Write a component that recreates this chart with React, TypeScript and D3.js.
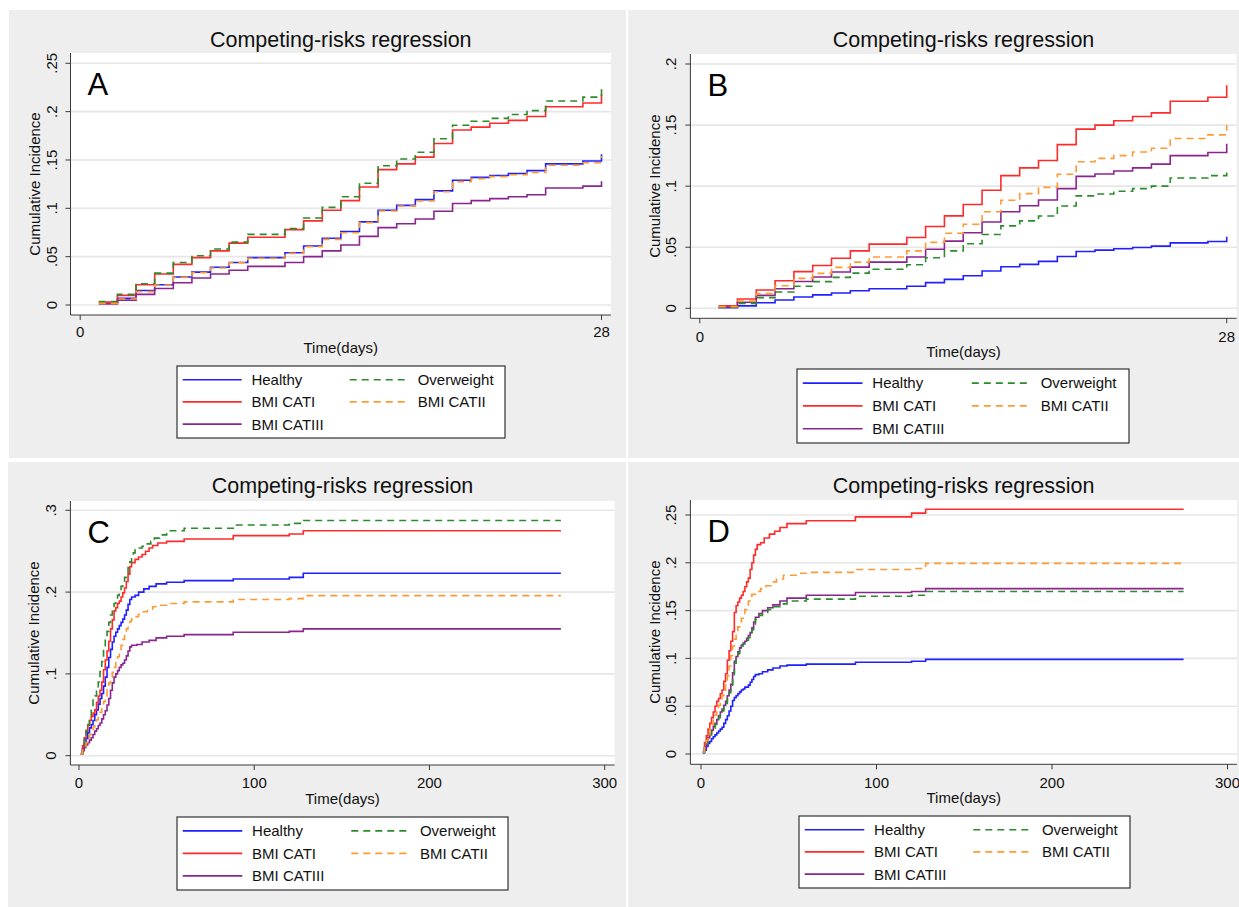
import React from "react";
import * as d3 from "d3";

// Legend / series order as in the Stata figure
const seriesNames = ["Healthy", "Overweight", "BMI CATI", "BMI CATII", "BMI CATIII"];
const seriesColors = ["#2020ff", "#2a8c2a", "#ff2a2a", "#ff9a33", "#8a2590"];
const seriesDashed = [false, true, false, true, false];
const drawOrder = [0, 2, 4, 1, 3];

// Panels A and B: daily steps over 28 days
const daysAB = [1, 2, 3, 4, 5, 6, 7, 8, 9, 10, 11, 12, 13, 14, 15, 16, 17, 18, 19, 20, 21, 22, 23, 24, 25, 26, 27, 28];

const aHealthy = [0.002, 0.007, 0.015, 0.021, 0.029, 0.034, 0.039, 0.044, 0.049, 0.049, 0.054, 0.061, 0.069, 0.076, 0.086, 0.098, 0.103, 0.109, 0.118, 0.129, 0.132, 0.134, 0.136, 0.139, 0.146, 0.146, 0.149, 0.156];
const aOverweight = [0.0035, 0.011, 0.022, 0.033, 0.044, 0.051, 0.058, 0.065, 0.073, 0.073, 0.079, 0.09, 0.101, 0.112, 0.126, 0.144, 0.151, 0.158, 0.172, 0.186, 0.19, 0.193, 0.197, 0.201, 0.211, 0.211, 0.215, 0.225];
const aCat1 = [0.003, 0.01, 0.021, 0.032, 0.042, 0.049, 0.056, 0.064, 0.07, 0.07, 0.078, 0.087, 0.098, 0.108, 0.122, 0.14, 0.146, 0.153, 0.167, 0.181, 0.184, 0.188, 0.191, 0.195, 0.205, 0.205, 0.209, 0.218];
const aCat2 = [0.0017, 0.0062, 0.0138, 0.0207, 0.0286, 0.0334, 0.0383, 0.0438, 0.0483, 0.0483, 0.0534, 0.0603, 0.0679, 0.0748, 0.0852, 0.0972, 0.1024, 0.1076, 0.1172, 0.1276, 0.1307, 0.1328, 0.1348, 0.1372, 0.1445, 0.1445, 0.1472, 0.1541];
const aCat3 = [0.001, 0.005, 0.011, 0.017, 0.023, 0.028, 0.032, 0.036, 0.04, 0.04, 0.044, 0.05, 0.056, 0.062, 0.071, 0.08, 0.084, 0.089, 0.097, 0.105, 0.108, 0.11, 0.112, 0.114, 0.121, 0.121, 0.123, 0.128];

const bHealthy = [0.0005, 0.002, 0.0046, 0.0068, 0.0093, 0.011, 0.0125, 0.0144, 0.016, 0.016, 0.018, 0.021, 0.0237, 0.0267, 0.0305, 0.034, 0.036, 0.0384, 0.0424, 0.0465, 0.0476, 0.0487, 0.0498, 0.0509, 0.0536, 0.0536, 0.0547, 0.0585];
const bOverweight = [0.0008, 0.004, 0.0087, 0.0133, 0.018, 0.0218, 0.0253, 0.0288, 0.032, 0.032, 0.0356, 0.0414, 0.047, 0.0528, 0.0604, 0.0675, 0.0716, 0.0756, 0.0838, 0.092, 0.0936, 0.0958, 0.098, 0.1, 0.1067, 0.1067, 0.1086, 0.115];
const bCat1 = [0.002, 0.0076, 0.015, 0.0226, 0.03, 0.035, 0.041, 0.047, 0.0525, 0.0525, 0.058, 0.067, 0.0757, 0.085, 0.0966, 0.1086, 0.115, 0.121, 0.134, 0.1467, 0.15, 0.1535, 0.157, 0.16, 0.1695, 0.1695, 0.1728, 0.1826];
const bCat2 = [0.0014, 0.006, 0.012, 0.0185, 0.0245, 0.0286, 0.0335, 0.0378, 0.042, 0.042, 0.047, 0.054, 0.0615, 0.0688, 0.079, 0.0884, 0.0939, 0.099, 0.1097, 0.12, 0.1227, 0.125, 0.128, 0.131, 0.139, 0.139, 0.142, 0.15];
const bCat3 = [0.001, 0.005, 0.0106, 0.016, 0.022, 0.0256, 0.0297, 0.0337, 0.0378, 0.0378, 0.042, 0.0484, 0.055, 0.0618, 0.0707, 0.079, 0.084, 0.0887, 0.098, 0.108, 0.11, 0.1124, 0.115, 0.118, 0.125, 0.125, 0.1276, 0.1347];

// Panels C and D: [day, cumulative incidence] step points up to day 275
type Pt = [number, number];

const cHealthy: Pt[] = [[1, .002], [2, .008], [3, .015], [4, .021], [5, .028], [6, .034], [7, .038], [8, .043], [9, .05], [10, .056], [11, .063], [12, .07], [13, .076], [14, .085], [15, .096], [16, .108], [17, .12], [18, .13], [19, .139], [20, .146], [21, .151], [22, .155], [23, .159], [24, .163], [25, .167], [26, .172], [27, .178], [28, .185], [29, .191], [30, .194], [32, .196], [34, .2], [37, .204], [40, .207], [44, .21], [50, .212], [60, .214], [88, .216], [120, .218], [128, .223], [275, .223]];
const cOverweight: Pt[] = [[1, .002], [2, .012], [3, .025], [4, .031], [5, .038], [6, .045], [7, .058], [8, .069], [9, .073], [10, .079], [11, .09], [12, .103], [13, .115], [14, .13], [15, .142], [16, .152], [17, .163], [18, .172], [19, .18], [20, .186], [21, .19], [22, .196], [23, .2], [24, .207], [25, .212], [26, .218], [27, .223], [28, .23], [29, .237], [30, .243], [31, .248], [32, .252], [34, .254], [36, .256], [38, .259], [41, .262], [43, .266], [46, .27], [50, .275], [60, .278], [88, .282], [120, .284], [128, .2875], [275, .2875]];
const cCat1: Pt[] = [[1, .002], [2, .012], [3, .022], [4, .03], [5, .037], [6, .043], [7, .048], [8, .052], [9, .056], [10, .065], [11, .073], [12, .08], [13, .09], [14, .105], [15, .117], [16, .128], [17, .14], [18, .155], [19, .166], [20, .177], [21, .181], [22, .186], [23, .189], [24, .194], [25, .199], [26, .205], [27, .213], [28, .222], [29, .231], [30, .236], [32, .24], [34, .243], [36, .246], [38, .25], [40, .254], [42, .257], [45, .26], [50, .262], [60, .265], [88, .269], [120, .271], [128, .275], [275, .275]];
const cCat2: Pt[] = [[1, .002], [2, .007], [3, .011], [4, .016], [5, .021], [6, .026], [7, .031], [8, .035], [9, .04], [10, .044], [11, .048], [12, .053], [13, .059], [14, .066], [15, .073], [16, .081], [17, .089], [18, .096], [19, .102], [20, .108], [21, .115], [22, .121], [23, .128], [24, .135], [25, .142], [26, .149], [27, .155], [28, .16], [29, .164], [30, .167], [32, .17], [34, .173], [36, .176], [39, .179], [42, .182], [46, .184], [50, .186], [60, .188], [88, .191], [120, .192], [128, .1957], [275, .1957]];
const cCat3: Pt[] = [[1, .002], [2, .006], [3, .01], [4, .013], [5, .016], [6, .019], [7, .022], [8, .026], [9, .03], [10, .033], [11, .037], [12, .04], [13, .045], [14, .05], [15, .055], [16, .062], [17, .07], [18, .08], [19, .089], [20, .096], [21, .1], [22, .104], [23, .108], [24, .111], [25, .113], [26, .117], [27, .122], [28, .128], [29, .133], [30, .135], [33, .136], [36, .139], [40, .141], [44, .144], [50, .146], [60, .148], [88, .151], [120, .152], [128, .155], [275, .155]];

const dHealthy: Pt[] = [[1, .001], [2, .004], [3, .008], [4, .011], [5, .013], [6, .016], [7, .018], [8, .02], [9, .022], [10, .024], [11, .026], [12, .028], [13, .032], [14, .036], [15, .04], [16, .045], [17, .05], [18, .056], [19, .059], [20, .061], [21, .063], [22, .065], [23, .067], [24, .068], [25, .07], [27, .072], [28, .075], [29, .078], [30, .081], [31, .083], [33, .084], [35, .086], [38, .088], [41, .09], [45, .092], [49, .093], [60, .094], [88, .096], [120, .097], [128, .099], [275, .099]];
const dOverweight: Pt[] = [[1, .002], [2, .006], [3, .011], [4, .016], [5, .02], [6, .024], [7, .027], [8, .031], [9, .034], [10, .038], [11, .042], [12, .045], [13, .049], [14, .053], [15, .059], [16, .064], [17, .071], [18, .083], [19, .095], [20, .1], [21, .105], [22, .11], [23, .113], [24, .115], [25, .117], [26, .119], [27, .122], [28, .125], [29, .13], [30, .136], [31, .141], [33, .145], [35, .148], [38, .151], [41, .154], [45, .157], [49, .16], [60, .162], [88, .165], [120, .166], [128, .17], [275, .17]];
const dCat1: Pt[] = [[1, .002], [2, .012], [3, .019], [4, .026], [5, .032], [6, .038], [7, .044], [8, .05], [9, .055], [10, .058], [11, .063], [12, .067], [13, .076], [14, .084], [15, .098], [16, .108], [17, .118], [18, .128], [19, .148], [20, .155], [21, .159], [22, .163], [23, .166], [24, .17], [25, .175], [26, .18], [27, .184], [28, .193], [29, .2], [30, .208], [31, .214], [32, .219], [34, .221], [36, .226], [39, .23], [42, .233], [45, .237], [49, .241], [60, .244], [88, .248], [120, .252], [128, .256], [275, .256]];
const dCat2: Pt[] = [[1, .002], [2, .008], [3, .014], [4, .02], [5, .026], [6, .031], [7, .037], [8, .041], [9, .046], [10, .051], [11, .056], [12, .061], [13, .066], [14, .074], [15, .082], [16, .092], [17, .103], [18, .113], [19, .12], [20, .126], [21, .133], [22, .138], [23, .142], [24, .146], [25, .151], [26, .156], [27, .16], [28, .165], [29, .167], [31, .17], [34, .173], [37, .176], [40, .18], [43, .183], [47, .187], [55, .189], [60, .19], [88, .193], [120, .194], [128, .1994], [275, .1994]];
const dCat3: Pt[] = [[1, .002], [2, .007], [3, .012], [4, .017], [5, .021], [6, .025], [7, .029], [8, .032], [9, .036], [10, .04], [11, .044], [12, .047], [13, .051], [14, .055], [15, .061], [16, .067], [17, .073], [18, .085], [19, .097], [20, .102], [21, .107], [22, .111], [23, .114], [24, .116], [25, .118], [26, .121], [27, .124], [28, .127], [29, .132], [30, .138], [31, .143], [33, .147], [35, .15], [38, .153], [41, .156], [45, .16], [49, .163], [60, .166], [88, .169], [120, .17], [128, .173], [275, .173]];

// Axis ticks
const xTicksAB = [0, 28];
const xTicksCD = [0, 100, 200, 300];
const yTicksA = [0, 0.05, 0.1, 0.15, 0.2, 0.25];
const yLabelsA = ["0", ".05", ".1", ".15", ".2", ".25"];
const yTicksB = [0, 0.05, 0.1, 0.15, 0.2];
const yLabelsB = ["0", ".05", ".1", ".15", ".2"];
const yTicksC = [0, 0.1, 0.2, 0.3];
const yLabelsC = ["0", ".1", ".2", ".3"];

const toPairs = (vals: number[]): Pt[] => daysAB.map((d, i) => [d, vals[i]]);

const FONT = "'Liberation Sans', Arial, Helvetica, sans-serif";

interface PanelCfg {
  letter: string;
  bg: { x: number; y: number; w: number; h: number };
  plot: { l: number; t: number; r: number; b: number };
  xDomain: [number, number];
  xRange: [number, number];
  yDomain: [number, number];
  yRange: [number, number];
  xTicks: number[];
  yTicks: number[];
  yLabels: string[];
  titleY: number;
  tickY: number;
  xLabelY: number;
  yLabelX: number;
  yTickX: number;
  legend: { x: number; y: number; w: number; h: number };
  series: Pt[][]; // in legend order
}

const panels: PanelCfg[] = [
  {
    letter: "A",
    bg: { x: 9, y: 10, w: 617, h: 448 },
    plot: { l: 70.5, t: 53, r: 611, b: 315 },
    xDomain: [0, 28], xRange: [80.2, 601.5],
    yDomain: [0, 0.25], yRange: [305, 63.3],
    xTicks: xTicksAB, yTicks: yTicksA, yLabels: yLabelsA,
    titleY: 39, tickY: 332, xLabelY: 348, yLabelX: 35, yTickX: 51.7,
    legend: { x: 177, y: 366, w: 328, h: 72 },
    series: [toPairs(aHealthy), toPairs(aOverweight), toPairs(aCat1), toPairs(aCat2), toPairs(aCat3)],
  },
  {
    letter: "B",
    bg: { x: 628, y: 10, w: 611, h: 448 },
    plot: { l: 690.4, t: 54, r: 1236.6, b: 318.3 },
    xDomain: [0, 28], xRange: [699.8, 1226.7],
    yDomain: [0, 0.2], yRange: [308.3, 64],
    xTicks: xTicksAB, yTicks: yTicksB, yLabels: yLabelsB,
    titleY: 39, tickY: 337, xLabelY: 352, yLabelX: 655, yTickX: 671,
    legend: { x: 797, y: 369, w: 332, h: 74 },
    series: [toPairs(bHealthy), toPairs(bOverweight), toPairs(bCat1), toPairs(bCat2), toPairs(bCat3)],
  },
  {
    letter: "C",
    bg: { x: 8, y: 462, w: 618, h: 445 },
    plot: { l: 70.4, t: 501, r: 614.6, b: 765 },
    xDomain: [0, 300], xRange: [79, 604.7],
    yDomain: [0, 0.3], yRange: [755.7, 510.3],
    xTicks: xTicksCD, yTicks: yTicksC, yLabels: yLabelsC,
    titleY: 485.7, tickY: 783, xLabelY: 799, yLabelX: 34, yTickX: 51,
    legend: { x: 177, y: 817, w: 331, h: 73 },
    series: [cHealthy, cOverweight, cCat1, cCat2, cCat3],
  },
  {
    letter: "D",
    bg: { x: 628, y: 462, w: 611, h: 445 },
    plot: { l: 690.4, t: 500, r: 1237, b: 764.3 },
    xDomain: [0, 300], xRange: [701, 1227.5],
    yDomain: [0, 0.25], yRange: [754, 515],
    xTicks: xTicksCD, yTicks: yTicksA, yLabels: yLabelsA,
    titleY: 485, tickY: 783, xLabelY: 798, yLabelX: 655, yTickX: 671,
    legend: { x: 799, y: 816, w: 331, h: 72 },
    series: [dHealthy, dOverweight, dCat1, dCat2, dCat3],
  },
];

const Panel = ({ cfg }: { cfg: PanelCfg }) => {
  const x = d3.scaleLinear().domain(cfg.xDomain).range(cfg.xRange);
  const y = d3.scaleLinear().domain(cfg.yDomain).range(cfg.yRange);
  const line = d3
    .line<Pt>()
    .x((d) => x(d[0]))
    .y((d) => y(d[1]))
    .curve(d3.curveStepAfter);

  const { plot, legend } = cfg;
  const midX = (plot.l + plot.r) / 2;
  const midY = (plot.t + plot.b) / 2;
  const sx = legend.w / 328;
  const sy = legend.h / 72;

  return (
    <g>
      <rect x={cfg.bg.x} y={cfg.bg.y} width={cfg.bg.w} height={cfg.bg.h} fill="#eeeeee" />
      <rect x={plot.l} y={plot.t} width={plot.r - plot.l} height={plot.b - plot.t} fill="#ffffff" />

      {/* gridlines */}
      {cfg.yTicks.map((t) => (
        <line key={"g" + t} x1={plot.l} x2={plot.r} y1={y(t)} y2={y(t)} stroke="#e6e6e6" strokeWidth={1.6} />
      ))}

      {/* axes */}
      <line x1={plot.l} x2={plot.l} y1={plot.t} y2={plot.b} stroke="#3a3a3a" strokeWidth={1} />
      <line x1={plot.l} x2={plot.r} y1={plot.b} y2={plot.b} stroke="#3a3a3a" strokeWidth={1} />
      {cfg.yTicks.map((t, i) => (
        <g key={"y" + t}>
          <line x1={plot.l - 5} x2={plot.l} y1={y(t)} y2={y(t)} stroke="#3a3a3a" strokeWidth={1} />
          <text
            transform={`translate(${cfg.yTickX},${y(t)}) rotate(-90)`}
            textAnchor="middle"
            dy="0.36em"
            fontSize={15}
            fontFamily={FONT}
            fill="#111"
          >
            {cfg.yLabels[i]}
          </text>
        </g>
      ))}
      {cfg.xTicks.map((t) => (
        <g key={"x" + t}>
          <line x1={x(t)} x2={x(t)} y1={plot.b} y2={plot.b + 5} stroke="#3a3a3a" strokeWidth={1} />
          <text x={x(t)} y={cfg.tickY} dy="0.36em" textAnchor="middle" fontSize={15} fontFamily={FONT} fill="#111">
            {t}
          </text>
        </g>
      ))}

      {/* titles */}
      <text x={midX} y={cfg.titleY} dy="0.36em" textAnchor="middle" fontSize={21.5} fontFamily={FONT} fill="#111">
        Competing-risks regression
      </text>
      <text x={midX} y={cfg.xLabelY} dy="0.36em" textAnchor="middle" fontSize={15} fontFamily={FONT} fill="#111">
        Time(days)
      </text>
      <text
        transform={`translate(${cfg.yLabelX},${midY}) rotate(-90)`}
        textAnchor="middle"
        dy="0.36em"
        fontSize={15}
        fontFamily={FONT}
        fill="#111"
      >
        Cumulative Incidence
      </text>
      <text x={plot.l + 17} y={plot.t + 42} fontSize={31} fontFamily={FONT} fill="#000">
        {cfg.letter}
      </text>

      {/* curves */}
      {drawOrder.map((k) => (
        <path
          key={"s" + k}
          d={line(cfg.series[k]) || ""}
          fill="none"
          stroke={seriesColors[k]}
          strokeWidth={1.6}
          strokeDasharray={seriesDashed[k] ? "7,5" : undefined}
        />
      ))}

      {/* legend */}
      <rect x={legend.x} y={legend.y} width={legend.w} height={legend.h} fill="#fff" stroke="#333" strokeWidth={1.2} />
      {seriesNames.map((name, k) => {
        const col = k % 2;
        const row = Math.floor(k / 2);
        const ly = legend.y + (13.7 + row * 22.2) * sy;
        const lx0 = legend.x + (col === 0 ? 5.7 : 172.7) * sx;
        const lx1 = legend.x + (col === 0 ? 64.7 : 230.7) * sx;
        const tx = legend.x + (col === 0 ? 74.4 : 240.7) * sx;
        return (
          <g key={"l" + k}>
            <line
              x1={lx0}
              x2={lx1}
              y1={ly}
              y2={ly}
              stroke={seriesColors[k]}
              strokeWidth={1.6}
              strokeDasharray={seriesDashed[k] ? "7,5" : undefined}
            />
            <text x={tx} y={ly} dy="0.36em" fontSize={15} fontFamily={FONT} fill="#111">
              {name}
            </text>
          </g>
        );
      })}
    </g>
  );
};

export default function App() {
  return (
    <svg
      width={1239}
      height={907}
      style={{ position: "absolute", left: 0, top: 0, background: "#fff" }}
    >
      {panels.map((p) => (
        <Panel key={p.letter} cfg={p} />
      ))}
    </svg>
  );
}
